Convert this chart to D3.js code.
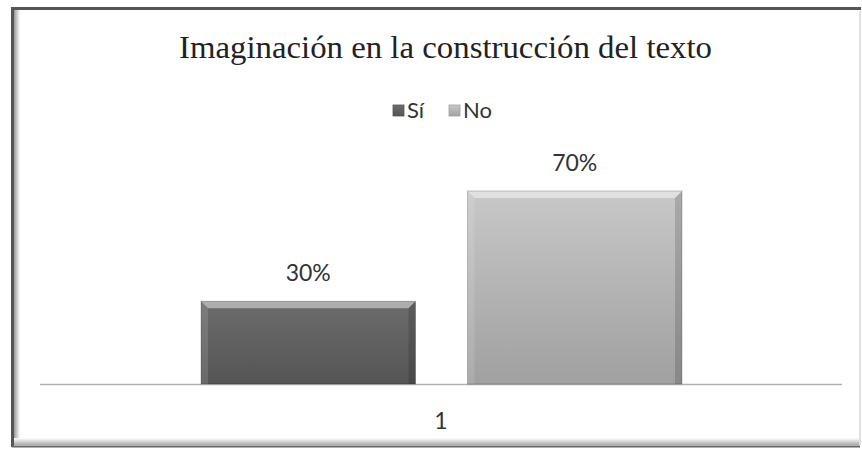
<!DOCTYPE html>
<html>
<head>
<meta charset="utf-8">
<script src="https://cdn.jsdelivr.net/npm/d3@7"></script>
<style>
  body { margin: 0; background: #fff; }
  svg { display: block; }
</style>
</head>
<body>
<div id="chart"></div>
<script>
const title = 'Imaginación en la construcción del texto'
const categories = ['1']
const series = ['Sí', 'No']
const values = [0.30, 0.70]
const fills = [['#6c6c6c', '#555555'], ['#c8c8c8', '#a0a0a0']]

const width = 862, height = 449
const svg = d3.select('#chart').append('svg')
  .attr('width', width).attr('height', height)

const defs = svg.append('defs')
series.forEach((s, i) => {
  const g = defs.append('linearGradient').attr('id', 'grad' + i)
    .attr('x1', 0).attr('y1', 0).attr('x2', 0).attr('y2', 1)
  g.append('stop').attr('offset', '0%').attr('stop-color', fills[i][0])
  g.append('stop').attr('offset', '100%').attr('stop-color', fills[i][1])
})
const shadeL = defs.append('linearGradient').attr('id', 'shadeL')
  .attr('x1', 0).attr('y1', 0).attr('x2', 1).attr('y2', 0)
shadeL.append('stop').attr('offset', '0%').attr('stop-color', '#999')
shadeL.append('stop').attr('offset', '100%').attr('stop-color', '#fff')
const shadeB = defs.append('linearGradient').attr('id', 'shadeB')
  .attr('x1', 0).attr('y1', 1).attr('x2', 0).attr('y2', 0)
shadeB.append('stop').attr('offset', '0%').attr('stop-color', '#aaa')
shadeB.append('stop').attr('offset', '100%').attr('stop-color', '#fff')

// frame with bevel
svg.append('rect').attr('x', 14).attr('y', 10).attr('width', 6).attr('height', 434).attr('fill', 'url(#shadeL)')
svg.append('rect').attr('x', 14).attr('y', 438).attr('width', 845).attr('height', 7).attr('fill', 'url(#shadeB)')
svg.append('path').attr('d', 'M12.5,447 L12.5,8.5 L861,8.5')
  .attr('fill', 'none').attr('stroke', '#555').attr('stroke-width', 3)
svg.append('path').attr('d', 'M12,446.5 L860,446.5')
  .attr('fill', 'none').attr('stroke', '#666').attr('stroke-width', 2)
svg.append('path').attr('d', 'M860,11 L860,445')
  .attr('fill', 'none').attr('stroke', '#e0e0e0').attr('stroke-width', 2)

const margin = { left: 40, right: 842, bottom: 384 }
const x0 = d3.scaleBand().domain(categories).range([margin.left, margin.right])
const x1 = d3.scaleBand().domain(series).range([x0('1') + 161, x0('1') + 642]).paddingInner(0.195)
const y = d3.scaleLinear().domain([0, 0.8]).range([margin.bottom, margin.bottom - 220.6])

svg.append('text').attr('x', 445.5).attr('y', 58)
  .attr('text-anchor', 'middle')
  .attr('font-family', '"Liberation Serif", "Times New Roman", serif')
  .attr('font-size', 32).attr('fill', '#222')
  .attr('textLength', 533).attr('lengthAdjust', 'spacingAndGlyphs')
  .text(title)

// legend
const legend = svg.append('g').attr('font-family', 'Lato, "Open Sans", sans-serif')
  .attr('font-size', 22).attr('fill', '#333')
const legendX = [393, 449]
series.forEach((s, i) => {
  legend.append('rect').attr('x', legendX[i]).attr('y', 105).attr('width', 11).attr('height', 11)
    .attr('fill', `url(#grad${i})`).attr('stroke', fills[i][1]).attr('stroke-width', 0.8)
  legend.append('text').attr('x', legendX[i] + 14).attr('y', 118).text(s)
})

// axis line
svg.append('line').attr('x1', margin.left).attr('x2', margin.right)
  .attr('y1', margin.bottom + 0.5).attr('y2', margin.bottom + 0.5)
  .attr('stroke', '#b0b0b0').attr('stroke-width', 1.5)

const bars = svg.append('g').selectAll('g').data(series).join('g')
bars.each(function (s, i) {
  const g = d3.select(this)
  const bx = x1(s), bw = x1.bandwidth()
  const top = y(values[i]), bottom = y(0)
  const e = 7
  g.append('rect').attr('x', bx).attr('y', top).attr('width', bw).attr('height', bottom - top)
    .attr('fill', `url(#grad${i})`)
  // bevel top
  g.append('path').attr('d', `M${bx},${top} L${bx + bw},${top} L${bx + bw - e},${top + e} L${bx + e},${top + e} Z`)
    .attr('fill', '#fff').attr('opacity', 0.45)
  // bevel left
  g.append('path').attr('d', `M${bx},${top} L${bx + e},${top + e} L${bx + e},${bottom} L${bx},${bottom} Z`)
    .attr('fill', '#fff').attr('opacity', 0.12)
  // bevel right
  g.append('path').attr('d', `M${bx + bw},${top} L${bx + bw - e},${top + e} L${bx + bw - e},${bottom} L${bx + bw},${bottom} Z`)
    .attr('fill', '#000').attr('opacity', 0.15)
  g.append('rect').attr('x', bx).attr('y', top).attr('width', bw).attr('height', bottom - top)
    .attr('fill', 'none').attr('stroke', '#000').attr('stroke-opacity', 0.2)
  g.append('text').attr('x', bx + bw / 2).attr('y', top - 20)
    .attr('text-anchor', 'middle')
    .attr('font-family', 'Lato, "Open Sans", sans-serif')
    .attr('font-size', 23).attr('fill', '#333')
    .text(d3.format('.0%')(values[i]))
})

svg.append('g').selectAll('text').data(categories).join('text')
  .attr('x', d => x0(d) + x0.bandwidth() / 2).attr('y', 429)
  .attr('text-anchor', 'middle')
  .attr('font-family', 'Lato, "Open Sans", sans-serif')
  .attr('font-size', 23).attr('fill', '#333')
  .text(d => d)
</script>
</body>
</html>
